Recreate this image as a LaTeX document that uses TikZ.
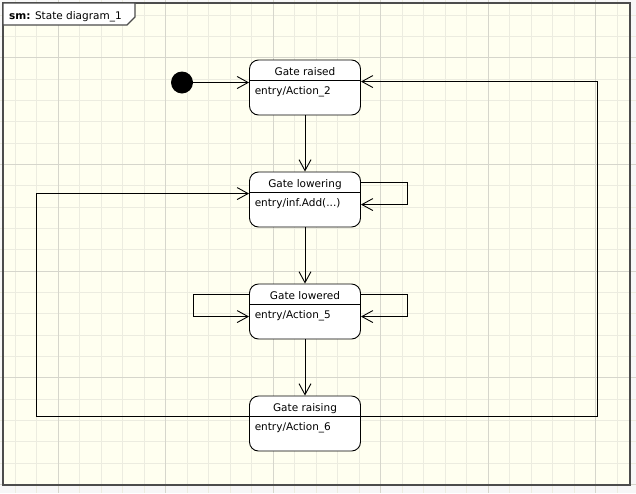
\documentclass[tikz,border=0pt]{standalone}
\usepackage{fontspec}
\setmainfont{DejaVu Sans}
\usetikzlibrary{arrows.meta}
\definecolor{fondo}{RGB}{255,255,240}
\definecolor{afuera}{RGB}{247,247,247}
\definecolor{rejilla}{RGB}{236,236,224}
\definecolor{rejillaf}{RGB}{214,214,204}
\begin{document}
\begin{tikzpicture}[x=1pt, y=-1pt,
    estado/.style={draw, fill=white, line width=0.9pt, rounded corners=9pt,
      minimum width=111pt, minimum height=55pt, inner sep=0pt},
    titulo/.style={font=\fontsize{10.5}{12}\selectfont, inner sep=0pt, anchor=base},
    accion/.style={font=\fontsize{10.5}{12}\selectfont, inner sep=0pt, anchor=base west},
    inicio/.style={circle, fill=black, minimum size=22pt, inner sep=0pt},
    trans/.style={line width=0.9pt, -{Straight Barb[length=11pt,width=12pt]}},
    marco/.style={draw=black!70, line width=1.3pt}]
  \useasboundingbox (0,0) rectangle (636,493);
  % fondo y rejilla
  \fill[afuera] (0,0) rectangle (636,493);
  \fill[fondo] (3,3) rectangle (630,485);
  \foreach \i in {0,...,29} \draw[rejilla, line width=0.6pt] ({15+21.5*\i},0) -- ++(0,493);
  \foreach \i in {0,...,22} \draw[rejilla, line width=0.6pt] (0,{15+21.33*\i}) -- ++(636,0);
  \foreach \i in {2,7,...,27} \draw[rejillaf, line width=0.7pt] ({15+21.5*\i},0) -- ++(0,493);
  \foreach \i in {2,7,...,22} \draw[rejillaf, line width=0.7pt] (0,{15+21.33*\i}) -- ++(636,0);
  \draw[marco] (3,3) rectangle (630,485);
  \draw[marco, fill=white] (3,3) -- (135,3) -- (135,17) -- (127,25) -- (3,25) -- cycle;
  \node[accion] (etiqMarco) at (9,19) {\textbf{sm:} State diagram\_1};
  % estados
  \node[inicio] (ini) at (182,82.5) {};
  \node[estado] (raised)   at (305,87.5)  {};
  \node[estado] (lowering) at (305,199.5) {};
  \node[estado] (lowered)  at (305,311.5) {};
  \node[estado] (raising)  at (305,423.5) {};
  \draw[line width=0.9pt] ([yshift=-21pt]raised.north west) -- ([yshift=-21pt]raised.north east);
  \draw[line width=0.9pt] ([yshift=-21pt]lowering.north west) -- ([yshift=-21pt]lowering.north east);
  \draw[line width=0.9pt] ([yshift=-21pt]lowered.north west) -- ([yshift=-21pt]lowered.north east);
  \draw[line width=0.9pt] ([yshift=-21pt]raising.north west) -- ([yshift=-21pt]raising.north east);
  \node[titulo] (raisedT)   at ([yshift=-15.5pt]raised.north)   {Gate raised};
  \node[titulo] (loweringT) at ([yshift=-15.5pt]lowering.north) {Gate lowering};
  \node[titulo] (loweredT)  at ([yshift=-15.5pt]lowered.north)  {Gate lowered};
  \node[titulo] (raisingT)  at ([yshift=-15.5pt]raising.north)  {Gate raising};
  \node[accion] (raisedA)   at ([xshift=5.5pt,yshift=-35pt]raised.north west)   {entry/Action\_2};
  \node[accion] (loweringA) at ([xshift=5.5pt,yshift=-35pt]lowering.north west) {entry/inf.Add(...)};
  \node[accion] (loweredA)  at ([xshift=5.5pt,yshift=-35pt]lowered.north west)  {entry/Action\_5};
  \node[accion] (raisingA)  at ([xshift=5.5pt,yshift=-35pt]raising.north west)  {entry/Action\_6};
  % transiciones
  \draw[trans] (ini) -- (ini -| raised.west);
  \draw[trans] (raised) -- (lowering);
  \draw[trans] (lowering) -- (lowered);
  \draw[trans] (lowered) -- (raising);
  \draw[trans] ([yshift=-11pt]lowering.north east) -- ++(46,0) -- ++(0,22) -- ++(-46,0);
  \draw[trans] ([yshift=-11pt]lowered.north east) -- ++(46,0) -- ++(0,22) -- ++(-46,0);
  \draw[trans] ([yshift=-11pt]lowered.north west) -- ++(-56,0) -- ++(0,22) -- ++(56,0);
  \draw[trans] ([yshift=-21pt]raising.north east) -- ++(236,0) |- ([yshift=-22pt]raised.north east);
  \draw[trans] ([yshift=-21pt]raising.north west) -- ++(-213,0) |- ([yshift=-22pt]lowering.north west);
\end{tikzpicture}
\end{document}
